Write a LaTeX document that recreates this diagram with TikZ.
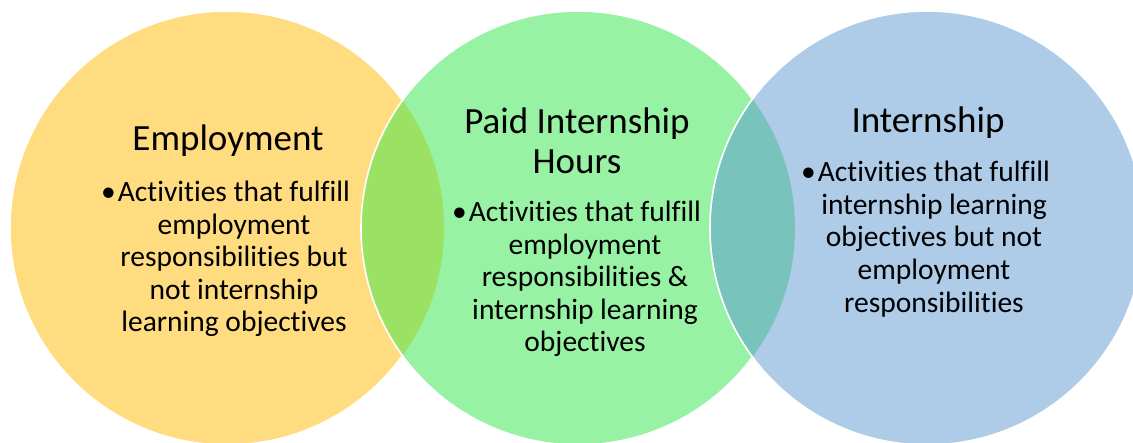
\documentclass[tikz,border=0pt]{standalone}
\usepackage{fontspec}
\setmainfont{Carlito}[Ligatures=NoCommon]
\definecolor{gelb}{RGB}{255,220,128}
\definecolor{gruen}{RGB}{152,242,164}
\definecolor{blau}{RGB}{174,203,232}
\definecolor{gelbgruen}{RGB}{155,226,100}
\definecolor{tuerkis}{RGB}{120,196,188}
\newcommand{\punkt}{\llap{\textbullet\hspace{2pt}}}
\begin{document}
\begin{tikzpicture}[x=1pt,y=-1pt,
  kreisrand/.style={white,line width=1.6pt},
  titel/.style={align=center,inner sep=0pt,font=\fontsize{37}{40}\selectfont},
  inhalt/.style={align=center,inner sep=0pt,font=\fontsize{29.5}{32.6}\selectfont}]
\useasboundingbox (0,0) rectangle (1133,443);
\clip (0,0) rectangle (1133,443);
% Mittelpunkte der drei Kreise
\coordinate (K1) at (227,228);
\coordinate (K2) at (578,228);
\coordinate (K3) at (927,228);
\def\kreisr{217}
% linker Kreis (gelb)
\fill[gelb] (K1) circle (\kreisr);
\draw[kreisrand] (K1) circle (\kreisr);
% mittlerer Kreis (gruen) und Schnitt mit dem gelben
\fill[gruen] (K2) circle (\kreisr);
\begin{scope}
  \clip (K1) circle (\kreisr);
  \fill[gelbgruen] (K2) circle (\kreisr);
\end{scope}
\draw[kreisrand] (K2) circle (\kreisr);
% rechter Kreis (blau) und Schnitt mit dem gruenen
\fill[blau] (K3) circle (\kreisr);
\begin{scope}
  \clip (K2) circle (\kreisr);
  \fill[tuerkis] (K3) circle (\kreisr);
\end{scope}
\draw[kreisrand] (K3) circle (\kreisr);
% Beschriftungen
\node[titel] (t1) at (228,141) {Employment};
\node[inhalt] (b1) at (234,259) {\punkt Activities that fulfill\\employment\\responsibilities but\\not internship\\learning objectives};
\node[titel] (t2) at (577,141) {Paid Internship\\Hours};
\node[inhalt] (b2) at (585,279) {\punkt Activities that fulfill\\employment\\responsibilities \&\\internship learning\\objectives};
\node[titel] (t3) at (928,123) {Internship};
\node[inhalt] (b3) at (934,239) {\punkt Activities that fulfill\\internship learning\\objectives but not\\employment\\responsibilities};
\end{tikzpicture}
\end{document}
